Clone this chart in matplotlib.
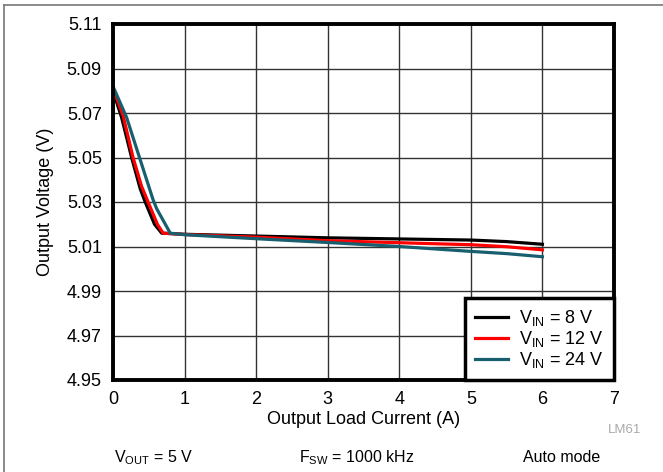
import matplotlib.pyplot as plt
from matplotlib.lines import Line2D

plt.rcParams['font.family'] = ['Liberation Sans', 'DejaVu Sans']
plt.rcParams['mathtext.fontset'] = 'custom'
plt.rcParams['mathtext.rm'] = 'Liberation Sans'
plt.rcParams['mathtext.it'] = 'Liberation Sans'

# output load current (A) vs output voltage (V)
i_8v = [0.0, 0.12, 0.26, 0.38, 0.45, 0.58, 0.68, 1.0, 2.0, 3.0, 4.0, 5.0, 5.5, 6.0]
v_8v = [5.080, 5.068, 5.050, 5.036, 5.030, 5.020, 5.016, 5.0155, 5.0147, 5.0139, 5.0134, 5.0129, 5.0122, 5.0110]
i_12v = [0.0, 0.14, 0.28, 0.40, 0.49, 0.62, 0.70, 1.0, 2.0, 3.0, 4.0, 5.0, 5.5, 6.0]
v_12v = [5.081, 5.069, 5.050, 5.037, 5.030, 5.020, 5.016, 5.0154, 5.0142, 5.0126, 5.0117, 5.0108, 5.0099, 5.0085]
i_24v = [0.0, 0.19, 0.38, 0.56, 0.61, 0.80, 1.0, 2.0, 3.0, 4.0, 5.0, 5.5, 6.0]
v_24v = [5.082, 5.068, 5.049, 5.031, 5.027, 5.016, 5.0153, 5.0135, 5.0118, 5.0100, 5.0078, 5.0068, 5.0054]

x_ticks = [0, 1, 2, 3, 4, 5, 6, 7]
y_ticks = [4.95, 4.97, 4.99, 5.01, 5.03, 5.05, 5.07, 5.09, 5.11]

fig = plt.figure(figsize=(6.63, 4.72), dpi=100)
ax = fig.add_axes([113/663, 1 - 380/472, 501/663, 356/472])

ax.plot(i_8v, v_8v, color='black', lw=2.3, label=r'$\mathrm{V_{IN}}$ = 8 V')
ax.plot(i_12v, v_12v, color='#ff0000', lw=2.3, label=r'$\mathrm{V_{IN}}$ = 12 V')
ax.plot(i_24v, v_24v, color='#175e6e', lw=2.3, label=r'$\mathrm{V_{IN}}$ = 24 V')

ax.set_xlim(0, 7)
ax.set_ylim(4.95, 5.11)
ax.set_xticks(x_ticks)
ax.set_yticks(y_ticks)
ax.set_yticklabels(['%.2f' % v for v in y_ticks])
ax.tick_params(length=0, labelsize=13, pad=8)
ax.grid(True, color='#333333', lw=1.0)
for s in ax.spines.values():
    s.set_linewidth(2.8)
ax.set_xlabel('Output Load Current (A)', fontsize=13, labelpad=2)
ax.set_ylabel('Output Voltage (V)', fontsize=13, labelpad=9)

leg = ax.legend(loc='lower right', fontsize=13, frameon=True, fancybox=False,
                borderaxespad=0, handlelength=1.85, labelspacing=0.05,
                borderpad=0.55, handletextpad=0.6)
leg.get_frame().set_edgecolor('black')
leg.get_frame().set_linewidth(2.5)
leg.get_frame().set_alpha(1)

fig.text(641/663, 1 - 430/472, 'LM61', color='#aaaaaa', fontsize=9.5, ha='right', va='center')
fig.text(154/663, 1 - 458/472, r'$\mathrm{V_{OUT}}$ = 5 V', fontsize=11.5, ha='center', va='center')
fig.text(357/663, 1 - 458/472, r'$\mathrm{F_{SW}}$ = 1000 kHz', fontsize=11.5, ha='center', va='center')
fig.text(562/663, 1 - 458/472, 'Auto mode', fontsize=11.5, ha='center', va='center')

# page frame lines
fig.add_artist(Line2D([4/663, 1], [1 - 5/472, 1 - 5/472], transform=fig.transFigure, color='#777777', lw=1.2))
fig.add_artist(Line2D([4/663, 4/663], [0, 1 - 5/472], transform=fig.transFigure, color='#777777', lw=1.2))

fig.savefig('out.png', dpi=100)
